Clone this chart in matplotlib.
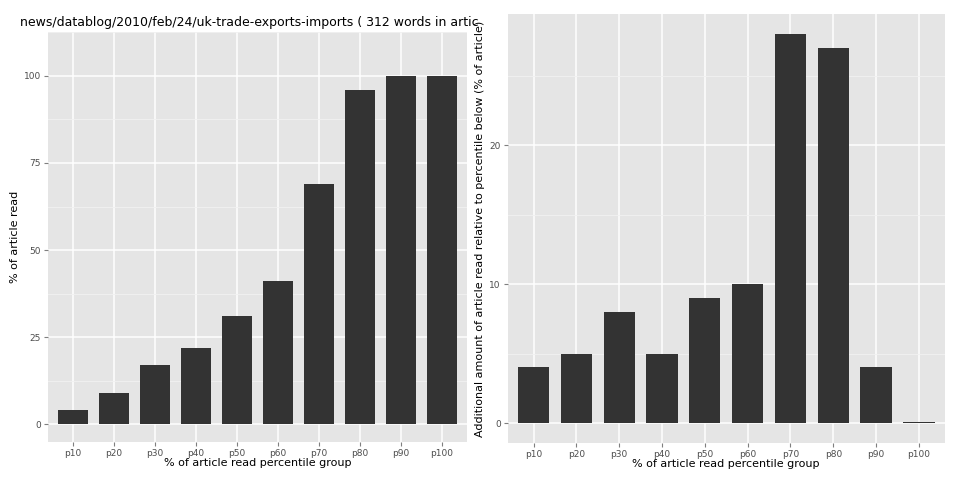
import numpy as np
import matplotlib
matplotlib.use('Agg')
import matplotlib.pyplot as plt

groups = ['p10', 'p20', 'p30', 'p40', 'p50', 'p60', 'p70', 'p80', 'p90', 'p100']
pct_read = [4, 9, 17, 22, 31, 41, 69, 96, 100, 100]
additional = [4, 5, 8, 5, 9, 10, 28, 27, 4, 0.1]
title = 'news/datablog/2010/feb/24/uk-trade-exports-imports ( 312 words in artic'

def gg(ax, values, yticks, ylim, ylabel):
    x = np.arange(1, len(groups) + 1)
    ax.set_facecolor('#E5E5E5')
    for s in ax.spines.values():
        s.set_visible(False)
    ax.set_xlim(0.4, len(groups) + 0.6)
    ax.set_ylim(*ylim)
    ax.set_yticks(yticks)
    minor = [(a + b) / 2 for a, b in zip(yticks[:-1], yticks[1:])]
    minor.append(yticks[-1] + (yticks[1] - yticks[0]) / 2)
    ax.set_yticks(minor, minor=True)
    ax.grid(True, which='major', color='white', lw=1.1)
    ax.grid(True, which='minor', axis='y', color='#F2F2F2', lw=0.6)
    ax.set_axisbelow(True)
    ax.bar(x, values, width=0.73, color='#333333', zorder=3)
    ax.set_xticks(x)
    ax.set_xticklabels(groups)
    ax.tick_params(colors='#7F7F7F', labelsize=6.5, length=3, pad=2)
    ax.tick_params(which='minor', length=0)
    for lab in ax.get_xticklabels() + ax.get_yticklabels():
        lab.set_color('#4D4D4D')
    ax.set_xlabel('% of article read percentile group', fontsize=8, labelpad=0)
    ax.set_ylabel(ylabel, fontsize=8, labelpad=3)

fig = plt.figure(figsize=(9.6, 4.8), dpi=100)
ax1 = fig.add_axes([0.05, 0.08, 0.436, 0.8525])
ax2 = fig.add_axes([0.529, 0.078, 0.455, 0.892])
gg(ax1, pct_read, [0, 25, 50, 75, 100], (-5, 105), '% of article read')
gg(ax2, additional, [0, 10, 20], (-1.4, 29.4),
   'Additional amount of article read relative to percentile below (% of article)')
fig.text(0.021, 0.954, title, fontsize=9, va='center', ha='left')
fig.savefig('out.png', dpi=100)
